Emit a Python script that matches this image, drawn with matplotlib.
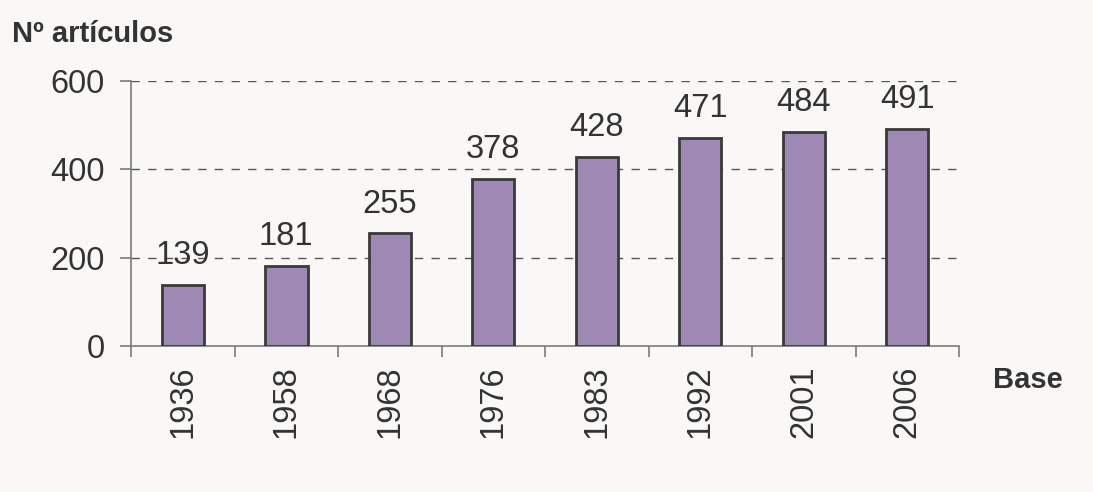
import matplotlib.pyplot as plt
import numpy as np

plt.rcParams['font.family'] = ['Liberation Sans', 'DejaVu Sans']

# data
years = ['1936', '1958', '1968', '1976', '1983', '1992', '2001', '2006']
articles = [139, 181, 255, 378, 428, 471, 484, 491]
y_ticks = [0, 200, 400, 600]

BG = '#f9f8f6'
BAR = '#9e88b4'
TXT = '#333333'
AXC = '#7a7a7a'
FS = 23.5

fig = plt.figure(figsize=(10.93, 4.92), dpi=100, facecolor=BG)
ax = fig.add_axes([0.1199, 0.2967, 0.7575, 0.5386], facecolor=BG)

x = np.arange(len(years))
bars = ax.bar(x, articles, width=0.41, color=BAR, edgecolor='#3a3a3a', linewidth=2, zorder=3)

for xi, v in zip(x, articles):
    ax.annotate(str(v), (xi, v), xytext=(0, 15), textcoords='offset points',
                ha='center', va='baseline', fontsize=FS, color=TXT)

ax.set_xlim(-0.5, len(years) - 0.5)
ax.set_ylim(0, 600)
ax.set_yticks(y_ticks)
ax.set_yticklabels([str(t) for t in y_ticks], fontsize=FS, color=TXT)
ax.set_xticks(x)
ax.set_xticklabels(years, rotation=90, fontsize=FS, color=TXT)
ax.tick_params(axis='x', length=0, pad=14)
# category boundary ticks
ax.set_xticks(np.arange(-0.5, len(years)), minor=True)
ax.tick_params(axis='x', which='minor', length=8, color=AXC, width=1.2, direction='out')
ax.tick_params(axis='y', length=8, color=AXC, width=1.2, direction='out', pad=11)

for ygrid in y_ticks[1:]:
    ax.axhline(ygrid, color='#555555', linewidth=1, dashes=(6, 6), zorder=1)

for s in ['top', 'right']:
    ax.spines[s].set_visible(False)
for s in ['left', 'bottom']:
    ax.spines[s].set_color(AXC)
    ax.spines[s].set_linewidth(1.2)

fig.text(12 / 1093, 1 - 42 / 492, 'Nº artículos', fontsize=21, fontweight='bold',
         color=TXT, ha='left', va='baseline')
fig.text(993 / 1093, 1 - 380 / 492, 'Base', fontsize=21, fontweight='bold',
         color=TXT, ha='left', va='center')

fig.savefig('out.png', dpi=100, facecolor=BG)
